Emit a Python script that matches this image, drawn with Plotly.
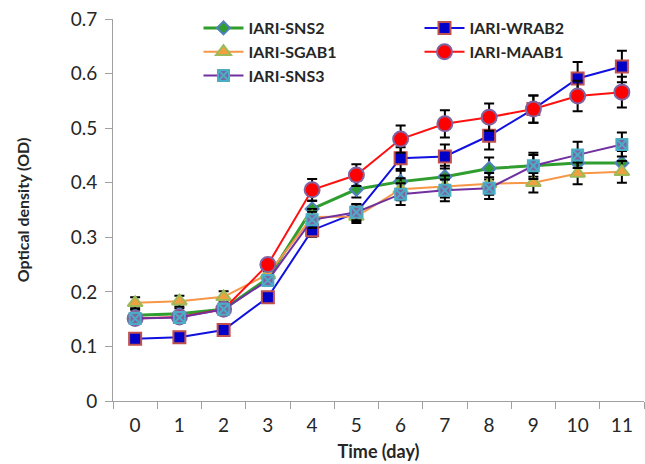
import plotly.graph_objects as go

days = ["0", "1", "2", "3", "4", "5", "6", "7", "8", "9", "10", "11"]

sns2 = [0.157, 0.160, 0.168, 0.225, 0.352, 0.388, 0.402, 0.411, 0.426, 0.431, 0.436, 0.436]
sns2_err = [0.010, 0.010, 0.010, 0.012, 0.015, 0.015, 0.020, 0.020, 0.020, 0.020, 0.022, 0.022]

wrab2 = [0.114, 0.117, 0.130, 0.190, 0.313, 0.345, 0.445, 0.448, 0.486, 0.535, 0.591, 0.613]
wrab2_err = [0.005, 0.005, 0.006, 0.008, 0.012, 0.015, 0.020, 0.022, 0.025, 0.025, 0.030, 0.029]

sgab1 = [0.180, 0.183, 0.191, 0.232, 0.337, 0.338, 0.388, 0.393, 0.398, 0.400, 0.417, 0.420]
sgab1_err = [0.010, 0.010, 0.010, 0.012, 0.015, 0.012, 0.020, 0.020, 0.020, 0.018, 0.020, 0.020]

maab1 = [0.151, 0.154, 0.168, 0.250, 0.387, 0.414, 0.480, 0.508, 0.520, 0.535, 0.559, 0.566]
maab1_err = [0.005, 0.005, 0.006, 0.010, 0.020, 0.020, 0.025, 0.025, 0.025, 0.025, 0.028, 0.028]

sns3 = [0.151, 0.153, 0.168, 0.221, 0.332, 0.346, 0.379, 0.386, 0.390, 0.431, 0.451, 0.470]
sns3_err = [0.005, 0.005, 0.006, 0.010, 0.015, 0.015, 0.020, 0.020, 0.020, 0.024, 0.024, 0.022]

series = [
    ("IARI-SNS2", sns2, sns2_err, "#2f9e2f", 3, "diamond", 10, "#2f9e2f", "#4f81bd"),
    ("IARI-WRAB2", wrab2, wrab2_err, "#1010e0", 2, "square", 12, "#0000c8", "#c0504d"),
    ("IARI-SGAB1", sgab1, sgab1_err, "#f79646", 2, "triangle-up", 13, "#f0a040", "#9bbb59"),
    ("IARI-MAAB1", maab1, maab1_err, "#ff1010", 2, "circle", 15, "#ff0000", "#8064a2"),
    ("IARI-SNS3", sns3, sns3_err, "#7030a0", 2, "square-x", 11, "#8064a2", "#4bacc6"),
]

fig = go.Figure()
for name, vals, errs, lc, lw, sym, sz, fc, oc in series:
    fig.add_trace(go.Scatter(
        x=days, y=vals, name=name, mode="lines+markers",
        line=dict(color=lc, width=lw),
        marker=dict(symbol=sym, size=sz, color=fc, line=dict(color=oc, width=2)),
        error_y=dict(type="data", array=errs, visible=True, color="black", thickness=2, width=5),
    ))

font_family = "Lato, 'Open Sans', sans-serif"

fig.update_layout(
    width=645, height=464,
    margin=dict(l=113, r=1, t=19, b=63),
    paper_bgcolor="white", plot_bgcolor="white",
    font=dict(family=font_family, size=19, color="#262626"),
    showlegend=True,
    legend=dict(
        orientation="h", x=0.161, y=1.021, xanchor="left", yanchor="top",
        entrywidth=166, entrywidthmode="pixels", itemwidth=40,
        font=dict(size=16, color="#262626", weight="bold"),
        bgcolor="rgba(255,255,255,0)", tracegroupgap=0,
    ),
    xaxis=dict(
        type="category", tickson="boundaries", ticks="outside", ticklen=7,
        tickcolor="#a0a0a0", showline=True, linecolor="#a0a0a0", linewidth=1,
        showgrid=False, zeroline=False, range=[-0.5, 11.5], automargin=False,
        ticklabelstandoff=7,
        title=dict(text="Time (day)", font=dict(size=18, weight="bold", color="#262626"), standoff=10),
        tickfont=dict(size=19, color="#262626"),
    ),
    yaxis=dict(
        range=[0, 0.7], tickvals=[0, 0.1, 0.2, 0.3, 0.4, 0.5, 0.6, 0.7],
        ticktext=["0", "0.1", "0.2", "0.3", "0.4", "0.5", "0.6", "0.7"],
        ticks="outside", ticklen=7, tickcolor="#a0a0a0",
        showline=True, linecolor="#a0a0a0", linewidth=1, automargin=False,
        showgrid=False, zeroline=False, ticklabelstandoff=4,
        title=dict(text="Optical density (OD)", font=dict(size=16, weight="bold", color="#262626"), standoff=37),
        tickfont=dict(size=19, color="#262626"),
    ),
)

fig.write_html("out.html", post_script="document.body.style.margin='0';",
               config={"displayModeBar": False})
